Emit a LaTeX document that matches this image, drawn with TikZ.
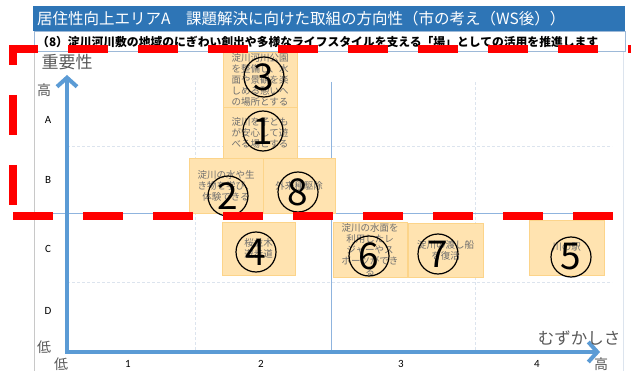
\documentclass[tikz,border=0pt]{standalone}
\usepackage{fontspec}
\setmainfont{Noto Sans CJK JP}
\newfontfamily\lat{Carlito}
\usetikzlibrary{arrows.meta}
\definecolor{titleblue}{HTML}{2E75B6}
\definecolor{axisblue}{HTML}{5B9BD5}
\definecolor{gridfaint}{HTML}{DCE4EE}
\definecolor{gridsolid}{HTML}{8FB4DE}
\definecolor{boxfill}{HTML}{FFE3B0}
\definecolor{boxline}{HTML}{FCD48A}
\definecolor{boxtext}{HTML}{6E6E6E}
\definecolor{labgray}{HTML}{595959}
\definecolor{framegray}{HTML}{C8C8C8}
\definecolor{subline}{HTML}{9DB9D8}
\tikzset{
  obox/.style={draw=boxline, fill=boxfill, line width=0.8pt, inner sep=1pt, align=center,
    text=boxtext, font=\fontsize{9.5}{11}\selectfont},
  cnum/.style={circle, draw=black, line width=1.2pt, minimum size=40pt, inner sep=0pt,
    font=\fontsize{37}{37}\selectfont},
  reddash/.style={draw=red, line width=8pt},
  faint/.style={draw=gridfaint, line width=0.7pt, dash pattern=on 3pt off 2pt},
  solidgrid/.style={draw=gridsolid, line width=0.8pt},
  axisline/.style={draw=axisblue, line width=4pt, line join=miter,
    {Straight Barb[length=9pt,width=20pt,line width=4pt]}-{Straight Barb[length=9pt,width=20pt,line width=4pt]}},
  lettr/.style={font=\lat\fontsize{11}{11}\selectfont, text=black},
  axlab/.style={font=\fontsize{14}{14}\selectfont, text=labgray, inner sep=0pt}
}
\begin{document}
\begin{tikzpicture}[x=1pt,y=-1pt]
\useasboundingbox (0,0) rectangle (631,371);
% frame
\draw[framegray, line width=0.8pt] (34,51) -- (34,371);
\draw[gridfaint, line width=0.8pt] (623,51) -- (623,371);
% title bar
\fill[titleblue] (33,6) rectangle (625,31);
\node[anchor=west, text=white, inner sep=0pt, font=\fontsize{15.5}{15.5}\selectfont] (title) at (37,18.5)
  {居住性向上エリアA　課題解決に向けた取組の方向性（市の考え（WS後））};
\draw[subline, line width=0.8pt] (34,31) rectangle (625,51);
\node[anchor=west, inner sep=0pt, font=\bfseries\fontsize{11.8}{11.8}\selectfont] (subtitle) at (37,41.5)
  {（8）淀川河川敷の地域のにぎわい創出や多様なライフスタイルを支える「場」としての活用を推進します};
% grid
\draw[faint] (195,82) -- (195,352);
\draw[faint] (475,82) -- (475,352);
\draw[solidgrid] (331,82) -- (331,352);
\draw[faint] (67,146) -- (612,146);
\draw[faint] (67,282) -- (612,282);
\draw[solidgrid] (50,213) -- (612,213);
% axes
\coordinate (ytip) at (67,75);
\coordinate (origin) at (67,352);
\coordinate (xtip) at (600,352);
\draw[axisline] (ytip) -- (origin) -- (xtip);
% axis labels
\node[font=\fontsize{17}{17}\selectfont, text=labgray, inner sep=0pt] (imp) at (67,62) {重要性};
\node[font=\fontsize{16.5}{16.5}\selectfont, text=labgray, inner sep=0pt] (dif) at (579,338) {むずかしさ};
\node[axlab] (yhi) at (44,90) {高};
\node[axlab] (ylo) at (44,347) {低};
\node[axlab] (xlo) at (61,364) {低};
\node[axlab] (xhi) at (601,364) {高};
\node[lettr] (la) at (48,120) {A};
\node[lettr] (lb) at (48,180) {B};
\node[lettr] (lc) at (48,249) {C};
\node[lettr] (ld) at (48,311) {D};
\node[lettr] (n1) at (128,364) {1};
\node[lettr] (n2) at (261,364) {2};
\node[lettr] (n3) at (401,364) {3};
\node[lettr] (n4) at (537,364) {4};
% boxes
\node[obox, minimum width=74pt, minimum height=54pt, text width=70pt] (b3) at (260,80)
  {淀川河川公園\\を整備し、水\\面や景観を楽\\しめる憩いへ\\の場所とする};
\node[obox, minimum width=74pt, minimum height=51pt, text width=70pt] (b1) at (260,132.5)
  {淀川を子ども\\が安心して遊\\べる場とする};
\node[obox, minimum width=74pt, minimum height=55pt, text width=70pt] (b2) at (226,185.5)
  {淀川の水や生\\き物を学び、\\体験できる};
\node[obox, minimum width=72pt, minimum height=55pt, text width=68pt] (b8) at (299,185.5)
  {外来種駆除};
\node[obox, minimum width=73pt, minimum height=53pt, text width=69pt] (b4) at (258.5,248.5)
  {桜並木\\遊歩道};
\node[obox, minimum width=74pt, minimum height=54pt, text width=70pt] (b6) at (370,250)
  {淀川の水面を\\利用したレ\\ジャーやス\\ポーツができ\\る};
\node[obox, minimum width=75pt, minimum height=54pt, text width=71pt] (b7) at (445.5,250)
  {淀川の渡し船\\を復活};
\node[obox, minimum width=75pt, minimum height=55pt, text width=71pt] (b5) at (566.5,247.5)
  {川の駅};
% circled numbers
\node[cnum] (c3) at (264,77) {3};
\node[cnum] (c1) at (263,131) {1};
\node[cnum] (c2) at (228,196) {2};
\node[cnum] (c8) at (298,192) {8};
\node[cnum] (c4) at (256,252) {4};
\node[cnum] (c6) at (369,256) {6};
\node[cnum] (c7) at (438,254) {7};
\node[cnum] (c5) at (571,257) {5};
% red dashed marker
\draw[reddash, dash pattern=on 40pt off 30pt, dash phase=11pt] (9,49) -- (631,49);
\draw[reddash, dash pattern=on 40pt off 30pt, dash phase=20pt] (13,45) -- (13,216);
\draw[reddash, dash pattern=on 40pt off 30pt] (13,216) -- (631,216);
\end{tikzpicture}
\end{document}
